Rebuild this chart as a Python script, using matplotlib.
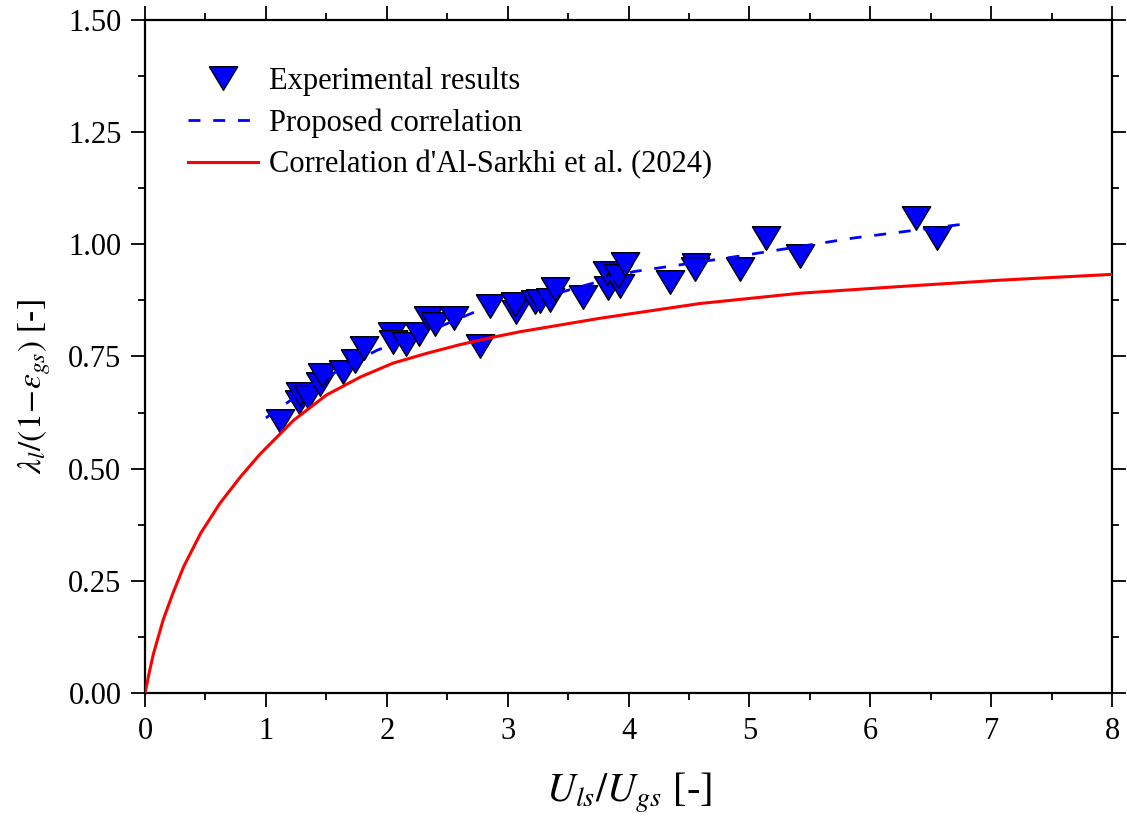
#!/usr/bin/env python3
"""
Holdup liquide normalisé vs rapport des vitesses superficielles.
"""

import matplotlib
matplotlib.use('Agg')
import matplotlib.pyplot as plt
from matplotlib.ticker import MultipleLocator, FormatStrFormatter

plt.rcParams['font.family'] = 'Liberation Serif'
plt.rcParams['mathtext.fontset'] = 'stix'

x_exp = [1.12, 1.27, 1.28, 1.35, 1.45, 1.46, 1.64, 1.74, 1.81, 2.04,
         2.05, 2.16, 2.27, 2.34, 2.40, 2.56, 2.77, 2.85, 3.07, 3.06,
         3.23, 3.27, 3.35, 3.39, 3.62, 3.83, 3.82, 3.93, 3.91, 3.97,
         4.34, 4.56, 4.55, 4.92, 5.14, 5.42, 6.38, 6.55]
y_exp = [0.606, 0.649, 0.666, 0.660, 0.688, 0.708, 0.715, 0.739, 0.768, 0.799,
         0.782, 0.778, 0.800, 0.836, 0.822, 0.836, 0.773, 0.862, 0.849, 0.868,
         0.872, 0.873, 0.876, 0.900, 0.882, 0.903, 0.935, 0.908, 0.929, 0.956,
         0.915, 0.954, 0.944, 0.946, 1.013, 0.974, 1.059, 1.013]

# Corrélation proposée
x_prop = [1.0, 1.4, 1.92, 2.4, 2.77, 3.4, 4.04, 4.9, 5.86, 6.83]
y_prop = [0.613, 0.690, 0.764, 0.812, 0.854, 0.890, 0.939, 0.973, 1.014, 1.047]

# Corrélation d'Al-Sarkhi et al. (2024)
x_als = [0.0, 0.035, 0.07, 0.15, 0.23, 0.32, 0.46, 0.62, 0.79, 0.95, 1.23,
         1.5, 1.78, 2.05, 2.33, 2.6, 2.88, 3.1, 3.76, 4.59, 5.42, 6.25, 7.07, 8.0]
y_als = [0.0, 0.046, 0.088, 0.163, 0.222, 0.282, 0.356, 0.423, 0.482, 0.532, 0.608,
         0.664, 0.704, 0.735, 0.757, 0.776, 0.793, 0.805, 0.835, 0.868, 0.891, 0.906,
         0.920, 0.933]

tri = [(-1, 0.83), (1, 0.83), (0, -0.83), (-1, 0.83)]

fig = plt.figure(figsize=(11.27, 8.25), dpi=100)
ax = fig.add_axes([0.1287, 0.16, 0.858, 0.8158])

ax.plot(x_exp, y_exp, linestyle='none', marker=tri, markersize=20.5,
        markerfacecolor='#0000FF', markeredgecolor='black', markeredgewidth=1.0,
        label='Experimental results', zorder=2)
ax.plot(x_prop, y_prop, color='#0000FF', lw=2.0, dashes=(4.3, 4.6),
        label='Proposed correlation', zorder=3)
ax.plot(x_als, y_als, color='#FF0000', lw=2.2,
        label="Correlation d'Al-Sarkhi et al. (2024)", zorder=4)

ax.set_xlim(0, 8)
ax.set_ylim(0, 1.5)
ax.xaxis.set_major_locator(MultipleLocator(1))
ax.xaxis.set_minor_locator(MultipleLocator(0.5))
ax.yaxis.set_major_locator(MultipleLocator(0.25))
ax.yaxis.set_minor_locator(MultipleLocator(0.125))
ax.yaxis.set_major_formatter(FormatStrFormatter('%.2f'))

ax.tick_params(which='both', direction='out', top=True, right=True,
               labelsize=22, width=1.3, pad=7)
ax.tick_params(which='major', length=10)
ax.tick_params(which='minor', length=5)
for s in ax.spines.values():
    s.set_linewidth(1.6)

ax.set_xlabel(r'$U_{ls}/U_{gs}$ [-]', fontsize=29, labelpad=18)
ax.set_ylabel(r'$\lambda_l/(1\!-\!\varepsilon_{gs})$ [-]', fontsize=24)
ax.yaxis.set_label_coords(-0.095, 0.455)

ax.legend(loc='upper left', bbox_to_anchor=(0.032, 0.948), frameon=False,
          fontsize=22, handlelength=2.3, labelspacing=0.4, handletextpad=0.35,
          borderaxespad=0.0)

fig.savefig('out.png', dpi=100)
